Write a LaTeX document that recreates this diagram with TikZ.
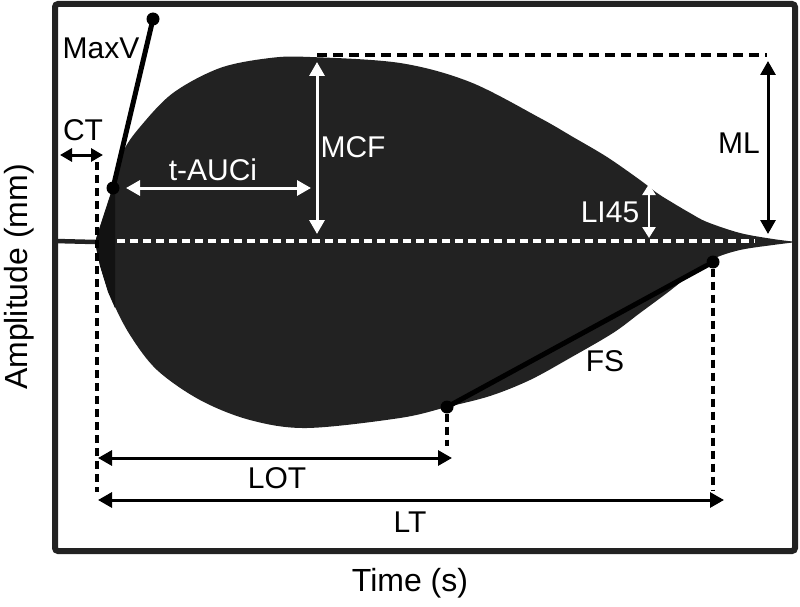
\documentclass[tikz,border=0pt]{standalone}
\usepackage{fontspec}
\setmainfont{Liberation Sans}
\usetikzlibrary{arrows.meta, positioning}

\definecolor{clotgray}{HTML}{222222}
\definecolor{clotdark}{HTML}{121212}

\begin{document}
\begin{tikzpicture}[x=1pt, y=-1pt,
    lbl/.style={font=\fontsize{30}{36}\selectfont, inner sep=0pt},
    axislbl/.style={font=\fontsize{32}{38}\selectfont, inner sep=0pt},
    dimarrow/.style={line width=3pt, >={Triangle[length=14pt,width=15pt]}, <->},
    guideline/.style={line width=4pt, dash pattern=on 8pt off 5pt},
    topguide/.style={line width=4pt, dash pattern=on 10pt off 6pt},
    dotmark/.style={circle, fill=black, inner sep=0pt, minimum size=13pt}]
\useasboundingbox (0,0) rectangle (800,607);

% key points
\coordinate (tip) at (95,242);
\coordinate (maxvlo) at (113,188);
\coordinate (maxvhi) at (153,19);
\coordinate (lotpt) at (447,407);
\coordinate (fspt) at (713,262);

% baseline left of clot
\draw[line width=4.5pt, clotgray] (55,241) -- (tip);

% clot
\fill[clotgray] plot[smooth, tension=0.55] coordinates {(95,242) (104,214) (113,186) (123,152) (140,127) (173,93) (220,68) (270,58) (310,57) (400,63) (470,82) (540,118) (573,137) (607,157) (640,180) (657,193) (673,203) (690,213) (707,222) (740,233) (773,239) (797,242)}
  -- plot[smooth, tension=0.55] coordinates {(797,242) (773,245) (740,250) (713,259) (690,275) (667,293) (640,313) (613,333) (570,358) (530,380) (490,396) (447,407) (400,418) (307,428) (250,420) (200,400) (157,370) (130,335) (112,300) (101,268) (95,242)} -- cycle;
\fill[clotdark] (tip) -- (maxvlo) -- (115,186) -- (115,308) -- (108,292) -- (100,266) -- cycle;

% white marks inside
\draw[white, guideline] (117,241) -- (755,241);
\coordinate (aucl) at (126,188);
\coordinate (aucr) at (311,188);
\draw[white, dimarrow] (aucl) -- (aucr);
\coordinate (mcftop) at (317,62);
\coordinate (mcfbot) at (317,234);
\draw[white, dimarrow] (mcftop) -- (mcfbot);
\coordinate (litop) at (649,184);
\coordinate (libot) at (649,238);
\draw[white, line width=2.5pt, >={Triangle[length=11pt,width=13pt]}, <->] (litop) -- (libot);

% ML
\coordinate (toplft) at (317,55);
\coordinate (toprgt) at (767,55);
\draw[topguide] (toplft) -- (toprgt);
\coordinate (mltop) at (768,61);
\coordinate (mlbot) at (768,234);
\draw[dimarrow] (mltop) -- (mlbot);

% MaxV and FS
\draw[line width=5pt] (maxvlo) -- (maxvhi);
\draw[line width=5pt] (lotpt) -- (fspt);
\node[dotmark] (dmaxvlo) at (maxvlo) {};
\node[dotmark] (dmaxvhi) at (maxvhi) {};
\node[dotmark] (dlot) at (lotpt) {};
\node[dotmark] (dfs) at (fspt) {};

% times
\coordinate (ctv) at (97,162);
\coordinate (ctb) at (97,492);
\draw[guideline] (ctv) -- (ctb);
\coordinate (lotb) at (447,446);
\draw[guideline] (dlot) -- (lotb);
\coordinate (ltb) at (713,490);
\draw[guideline] (dfs) -- (ltb);
\coordinate (ctl) at (60,155);
\coordinate (ctr) at (103,155);
\draw[line width=3pt, >={Triangle[length=12pt,width=13pt]}, <->] (ctl) -- (ctr);
\coordinate (lotl) at (98,458);
\coordinate (lotr) at (452,458);
\draw[dimarrow] (lotl) -- (lotr);
\coordinate (ltl) at (98,500);
\coordinate (ltr) at (724,500);
\draw[dimarrow] (ltl) -- (ltr);

% frame
\draw[line width=6pt, clotgray, rounded corners=3pt] (55,4) rectangle (795,551);

% labels
\node[lbl] (maxvlbl) at (101,48) {MaxV};
\node[lbl] (ctlbl) at (83,130) {CT};
\node[lbl, text=white] (auclbl) at (213,170) {t-AUCi};
\node[lbl, text=white] (mcflbl) at (353,147) {MCF};
\node[lbl] (mllbl) at (739,143) {ML};
\node[lbl, text=white] (lilbl) at (610,212) {LI45};
\node[lbl] (fslbl) at (605,361) {FS};
\node[lbl] (lotlbl) at (277,478) {LOT};
\node[lbl] (ltlbl) at (410,522) {LT};
\node[axislbl] (xlbl) at (410,583) {Time (s)};
\node[axislbl, rotate=90] (ylbl) at (19,277) {Amplitude (mm)};
\end{tikzpicture}
\end{document}
